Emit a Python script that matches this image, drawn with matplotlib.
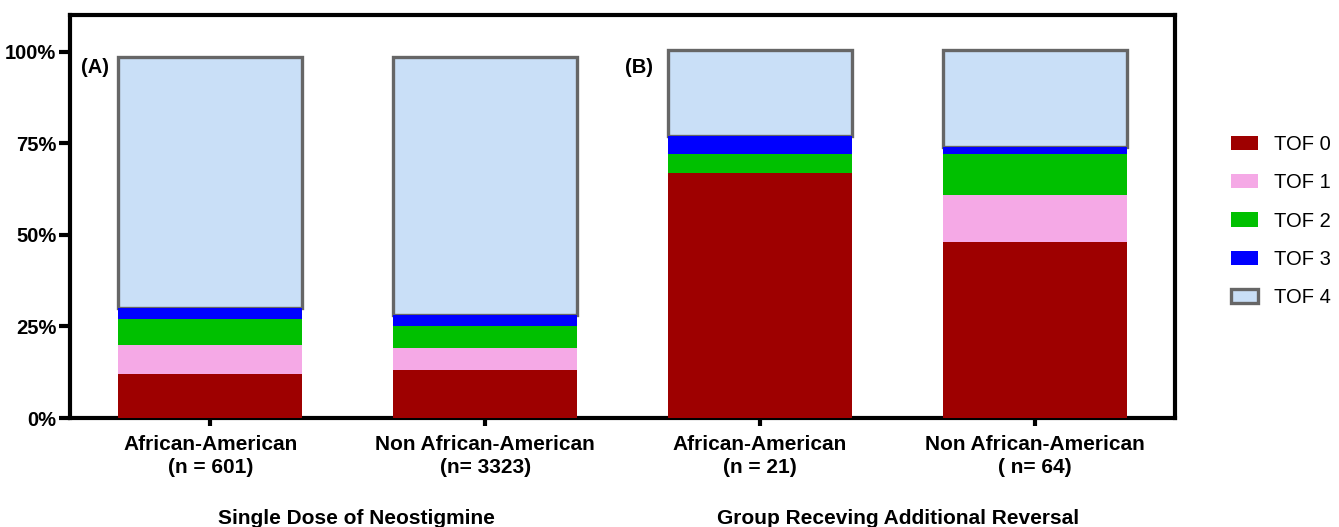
import matplotlib
matplotlib.use("Agg")
import matplotlib.pyplot as plt
from matplotlib.patches import Patch

plt.rcParams['font.family'] = ['Liberation Sans', 'DejaVu Sans']

categories = ["African-American\n(n = 601)", "Non African-American\n(n= 3323)",
              "African-American\n(n = 21)", "Non African-American\n( n= 64)"]
series_names = ["TOF 0", "TOF 1", "TOF 2", "TOF 3", "TOF 4"]
tof0 = [12, 13, 67, 48]
tof1 = [8, 6, 0, 13]
tof2 = [7, 6, 5, 11]
tof3 = [3, 3, 5, 2]
tof4 = [68.5, 70.5, 23.5, 26.5]
group_titles = ["Single Dose of Neostigmine", "Group Receving Additional Reversal"]
panel_tags = ["(A)", "(B)"]
yticks = [0, 25, 50, 75, 100]

colors = ["#9e0000", "#f5a9e6", "#00c000", "#0000ff", "#c9dff7"]
edge4 = "#666666"

fig = plt.figure(figsize=(13.39, 5.27), dpi=100)
ax = fig.add_axes([0.0523, 0.2068, 0.8252, 0.7647])

x = list(range(len(categories)))
width = 0.67
bottom = [0.0] * len(x)
for i, vals in enumerate([tof0, tof1, tof2, tof3, tof4]):
    if i == 4:
        ax.bar(x, vals, width=width, bottom=bottom, color=colors[i],
               edgecolor=edge4, linewidth=2.4, zorder=2)
    else:
        ax.bar(x, vals, width=width, bottom=bottom, color=colors[i],
               linewidth=0, zorder=3)
    bottom = [b + v for b, v in zip(bottom, vals)]

ax.set_xlim(-0.51, 3.51)
ax.set_ylim(0, 110)
ax.set_yticks(yticks)
ax.set_yticklabels([f"{t}%" for t in yticks], fontsize=14.5, fontweight='bold')
ax.set_xticks(x)
ax.set_xticklabels(categories, fontsize=15, fontweight='bold', linespacing=1.3)
ax.tick_params(axis='y', direction='out', length=8, width=3, pad=2)
ax.tick_params(axis='x', direction='out', length=6, width=3, pad=6)
for sp in ax.spines.values():
    sp.set_linewidth(3)
    sp.set_color('black')

ax.text(-0.47, 95.6, panel_tags[0], fontsize=14.5, fontweight='bold', va='center')
ax.text(1.51, 95.6, panel_tags[1], fontsize=14.5, fontweight='bold', va='center')

fig.text(356 / 1339, 0.0066, group_titles[0], ha='center', va='baseline',
         fontsize=15, fontweight='bold')
fig.text(898 / 1339, 0.0066, group_titles[1], ha='center', va='baseline',
         fontsize=15, fontweight='bold')

handles = []
for i, name in enumerate(series_names):
    if i == 4:
        handles.append(Patch(facecolor=colors[i], edgecolor=edge4, linewidth=2.4, label=name))
    else:
        handles.append(Patch(facecolor=colors[i], edgecolor='none', label=name))
fig.legend(handles=handles, loc='center left', bbox_to_anchor=(1213 / 1339, 0.5806),
           frameon=False, fontsize=14.5, labelspacing=0.95, handlelength=1.35,
           handleheight=0.7, handletextpad=0.8)

fig.savefig("out.png", dpi=100)
